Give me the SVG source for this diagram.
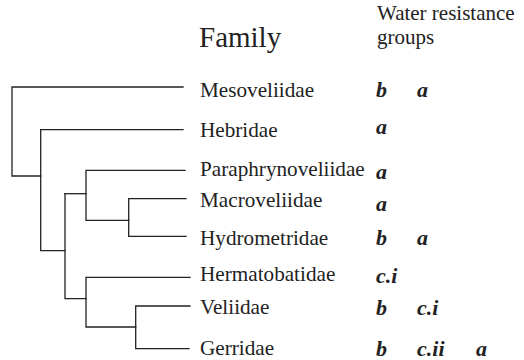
<svg xmlns="http://www.w3.org/2000/svg" width="524" height="360" viewBox="0 0 524 360">
<style>
.e{fill:none;stroke:#222;stroke-width:1.3;stroke-linecap:square}
.n{font-family:"Liberation Serif","Times New Roman",serif;font-size:21.2px;fill:#222}
.g{font-family:"Liberation Serif","Times New Roman",serif;font-size:22px;font-weight:bold;font-style:italic;fill:#222}
.h{font-family:"Liberation Serif","Times New Roman",serif;fill:#222}
</style>
<rect width="524" height="360" fill="#fff"/>
<g id="header">
<text class="h" x="199" y="47" font-size="29">Family</text>
<text class="h" x="377" y="20" font-size="21">Water resistance</text>
<text class="h" x="377" y="44" font-size="21">groups</text>
</g>
<g id="connectors">
<path class="e" d="M183,87 H12 V176 H40.7"/>
<path class="e" d="M183,129.7 H40.7 V250.7 H65"/>
<path class="e" d="M185,170.3 H86 V220.3 H128.7"/>
<path class="e" d="M65,193.7 H86"/>
<path class="e" d="M186,198.7 H128.7 V236.3 H186"/>
<path class="e" d="M65,193.7 V298.7 H86"/>
<path class="e" d="M190,277.3 H86 V327 H135.7"/>
<path class="e" d="M190,306 H135.7 V348.7 H189"/>
</g>
<g id="mesoveliidae"><text class="n" x="200" y="97">Mesoveliidae</text><text class="g" x="376" y="97">b</text><text class="g" x="417" y="97">a</text></g>
<g id="hebridae"><text class="n" x="200" y="137">Hebridae</text><text class="g" x="376" y="134">a</text></g>
<g id="paraphrynoveliidae"><text class="n" x="200" y="176">Paraphrynoveliidae</text><text class="g" x="376" y="179">a</text></g>
<g id="macroveliidae"><text class="n" x="200" y="207">Macroveliidae</text><text class="g" x="376" y="211">a</text></g>
<g id="hydrometridae"><text class="n" x="200" y="245">Hydrometridae</text><text class="g" x="376" y="245">b</text><text class="g" x="417" y="245">a</text></g>
<g id="hermatobatidae"><text class="n" x="200" y="281">Hermatobatidae</text><text class="g" x="376" y="283">c.i</text></g>
<g id="veliidae"><text class="n" x="200" y="314">Veliidae</text><text class="g" x="376" y="315">b</text><text class="g" x="417" y="315">c.i</text></g>
<g id="gerridae"><text class="n" x="200" y="355">Gerridae</text><text class="g" x="376" y="356">b</text><text class="g" x="417" y="356">c.ii</text><text class="g" x="476" y="356">a</text></g>
</svg>
